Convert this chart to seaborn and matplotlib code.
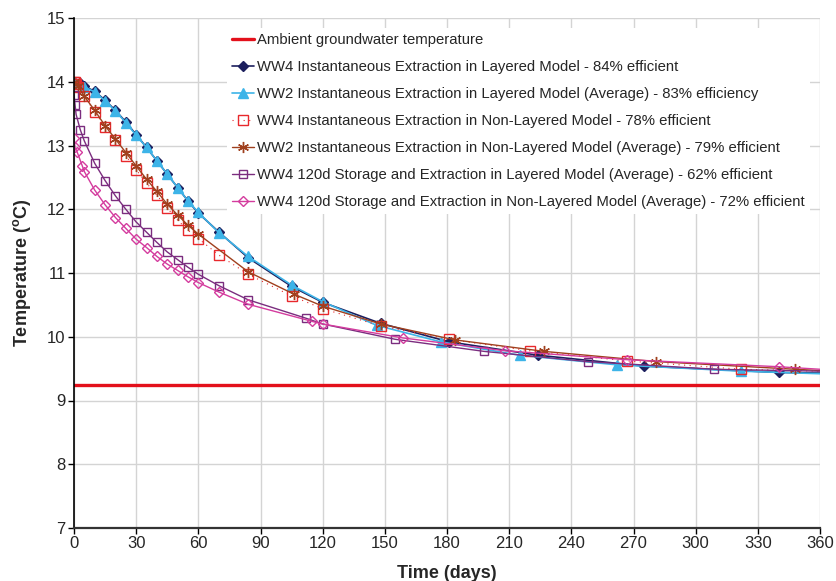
import matplotlib
matplotlib.use("Agg")
import matplotlib.pyplot as plt
import seaborn as sns
import numpy as np
import pandas as pd

# ---------------- data ----------------
ambient_label = "Ambient groundwater temperature"
ambient_days = [0, 360]
ambient_temp = [9.25, 9.25]

s1_label = "WW4 Instantaneous Extraction in Layered Model - 84% efficient"
s1_days = [0, 3, 5, 10, 15, 20, 25, 30, 35, 40, 45, 50, 55, 60, 70, 84, 105, 120, 148, 181, 224, 275, 340, 360]
s1_temp = [14.0, 13.98, 13.93, 13.85, 13.71, 13.55, 13.37, 13.17, 12.97, 12.76, 12.55, 12.34, 12.13, 11.94,
           11.64, 11.24, 10.79, 10.54, 10.21, 9.92, 9.71, 9.54, 9.44, 9.43]

s2_label = "WW2 Instantaneous Extraction in Layered Model (Average) - 83% efficiency"
s2_days = [0, 5, 10, 15, 20, 25, 30, 35, 40, 45, 50, 55, 60, 70, 84, 105, 120, 146, 177, 215, 262, 322, 360]
s2_temp = [14.0, 13.92, 13.84, 13.70, 13.54, 13.36, 13.16, 12.97, 12.76, 12.55, 12.34, 12.13, 11.95, 11.63,
           11.26, 10.81, 10.55, 10.18, 9.92, 9.71, 9.56, 9.46, 9.42]

s3_label = "WW4 Instantaneous Extraction in Non-Layered Model - 78% efficient"
s3_days = [0, 0.5, 1, 2, 5, 10, 15, 20, 25, 30, 35, 40, 45, 50, 55, 60, 70, 84, 105, 120, 148, 181, 220, 267,
           322, 360]
s3_temp = [14.0, 13.99, 13.97, 13.92, 13.77, 13.53, 13.29, 13.09, 12.84, 12.62, 12.41, 12.22, 12.02, 11.83,
           11.67, 11.54, 11.28, 10.98, 10.64, 10.44, 10.17, 9.96, 9.78, 9.62, 9.49, 9.46]

s4_label = "WW2 Instantaneous Extraction in Non-Layered Model (Average) - 79% efficient"
s4_days = [0, 2, 5, 10, 15, 20, 25, 30, 35, 40, 45, 50, 55, 60, 84, 106, 120, 148, 184, 227, 281, 348, 360]
s4_temp = [14.0, 13.93, 13.77, 13.55, 13.31, 13.10, 12.89, 12.68, 12.47, 12.28, 12.08, 11.91, 11.75, 11.61,
           11.02, 10.67, 10.48, 10.20, 9.95, 9.77, 9.61, 9.49, 9.47]

s5_label = "WW4 120d Storage and Extraction in Layered Model (Average) - 62% efficient"
s5_days = [0, 0.5, 1, 3, 5, 10, 15, 20, 25, 30, 35, 40, 45, 50, 55, 60, 70, 84, 112, 120, 155, 198, 248, 309, 360]
s5_temp = [13.80, 13.64, 13.49, 13.25, 13.07, 12.72, 12.45, 12.21, 12.00, 11.80, 11.64, 11.48, 11.33, 11.21,
           11.09, 10.98, 10.80, 10.58, 10.29, 10.20, 9.96, 9.77, 9.61, 9.49, 9.46]

s6_label = "WW4 120d Storage and Extraction in Non-Layered Model (Average) - 72% efficient"
s6_days = [0, 0.5, 1.5, 4, 5, 10, 15, 20, 25, 30, 35, 40, 45, 50, 55, 60, 70, 84, 115, 120, 159, 208, 267, 340, 360]
s6_temp = [13.12, 12.97, 12.90, 12.68, 12.59, 12.30, 12.07, 11.87, 11.70, 11.53, 11.40, 11.26, 11.14, 11.04,
           10.94, 10.85, 10.70, 10.51, 10.24, 10.20, 9.98, 9.78, 9.64, 9.53, 9.49]

x_ticks = list(range(0, 361, 30))
y_ticks = list(range(7, 16))

# ---------------- style ----------------
sns.set_style("white")
plt.rcParams['font.family'] = ['Liberation Sans', 'DejaVu Sans']
plt.rcParams['mathtext.fontset'] = 'custom'
plt.rcParams['mathtext.bf'] = 'Liberation Sans:bold'
plt.rcParams['mathtext.rm'] = 'Liberation Sans'

fig = plt.figure(figsize=(8.37, 5.81), dpi=100)
ax = fig.add_axes([74/837, 1-528/581, (820-74)/837, (528-18)/581])

series = [
    dict(d=ambient_days, t=ambient_temp, label=ambient_label, color='#E3101B', lw=2.4, marker=None,
         ms=0, mfc=None, ls='-'),
    dict(d=s1_days, t=s1_temp, label=s1_label, color='#1C1F5E', lw=1.2, marker='D', ms=5.5,
         mfc='#1C1F5E', ls='-'),
    dict(d=s2_days, t=s2_temp, label=s2_label, color='#3DB4E8', lw=1.2, marker='^', ms=7,
         mfc='#3DB4E8', ls='-'),
    dict(d=s3_days, t=s3_temp, label=s3_label, color='#E8282C', lw=0.8, marker='s', ms=7.5,
         mfc='none', ls=(0, (1, 4))),
    dict(d=s4_days, t=s4_temp, label=s4_label, color='#A0401E', lw=1.0, marker=(6, 2, 0), ms=8,
         mfc='#A0401E', ls='-'),
    dict(d=s5_days, t=s5_temp, label=s5_label, color='#7B2D7F', lw=1.0, marker='s', ms=5.5,
         mfc='none', ls='-'),
    dict(d=s6_days, t=s6_temp, label=s6_label, color='#D43C9E', lw=1.0, marker='D', ms=5,
         mfc='none', ls='-'),
]

for s in series:
    kw = dict(color=s['color'], linewidth=s['lw'], linestyle=s['ls'])
    if s['marker'] is not None:
        kw.update(marker=s['marker'], markersize=s['ms'], markerfacecolor=s['mfc'],
                  markeredgecolor=s['color'], markeredgewidth=1.0,
                  markevery=slice(0, len(s['d']) - 1))
    sns.lineplot(x=s['d'], y=s['t'], ax=ax, label=s['label'], sort=False,
                 estimator=None, clip_on=True, **kw)

ax.set_xlim(0, 360)
ax.set_ylim(7, 15)
ax.set_xticks(x_ticks)
ax.set_yticks(y_ticks)
ax.grid(True, color='#d4d4d4', linewidth=1.0)
ax.set_axisbelow(True)
for side in ['top', 'right']:
    ax.spines[side].set_visible(False)
ax.spines['left'].set_color('black')
ax.spines['bottom'].set_color('#333333')
ax.spines['left'].set_linewidth(1.2)
ax.spines['bottom'].set_linewidth(1.6)
ax.tick_params(axis='both', direction='out', length=4, width=1, color='black',
               labelsize=12, pad=2, left=True, bottom=True)

ax.set_xlabel('Time (days)', fontsize=13, fontweight='bold', labelpad=10)
ax.set_ylabel(r'Temperature ($^{\mathbf{o}}$C)', fontsize=13, fontweight='bold', labelpad=10)

leg = ax.legend(loc='upper left', bbox_to_anchor=(0.205, 0.98), frameon=True, fancybox=False,
                framealpha=1, facecolor='white', edgecolor='none', fontsize=10.7,
                handlelength=1.45, handletextpad=0.2, labelspacing=0.87, borderpad=0.35,
                borderaxespad=0)
leg.get_frame().set_linewidth(0)

fig.savefig('out.png', dpi=100)
